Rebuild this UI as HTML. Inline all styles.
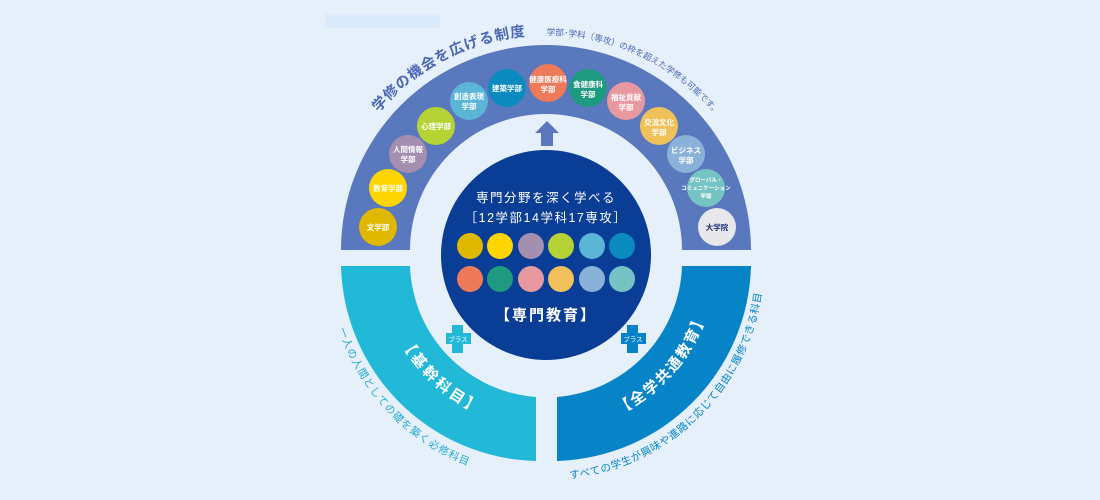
<!DOCTYPE html>
<html><head><meta charset="utf-8"><style>
html,body{margin:0;padding:0;background:#e6f0fa;}
svg{display:block}
text{font-family:"Liberation Sans","Noto Sans CJK JP",sans-serif;}
</style></head><body>
<svg width="1100" height="500" viewBox="0 0 1100 500" xmlns="http://www.w3.org/2000/svg">
<rect width="1100" height="500" fill="#e6f0fa"/>
<rect x="325" y="14" width="115" height="14" fill="#dcebfb"/>
<defs>
<path id="ttl" d="M326,255 A220,220 0 0 1 766,255"/>
<path id="bl" d="M328,262 A218,218 0 0 0 546,480"/>
<path id="br" d="M546,480 A218,218 0 0 0 764,262"/>
<path id="il" d="M380,262 A166,166 0 0 0 546,428"/>
<path id="ir" d="M546,431 A169,169 0 0 0 715,262"/>
</defs>
<path d="M341,250 A205,205 0 0 1 751,250 L682,250 A136,136 0 0 0 410,250 Z" fill="#5a78bd"/>
<path d="M341,266 L410,266 A136,136 0 0 0 536,397 L536,461 A200,200 0 0 1 341,266 Z" fill="#22b8d8"/>
<path d="M751,266 L682,266 A136,136 0 0 1 557,397 L557,461 A200,200 0 0 0 751,266 Z" fill="#0784c8"/>
<path d="M541,146 L541,133 L535,133 L547,121 L559,133 L553,133 L553,146 Z" fill="#5a78bd"/>
<circle cx="546" cy="255" r="105" fill="#0a3d96"/>
<text x="546" y="202" fill="#fff" font-size="12.5" text-anchor="middle" letter-spacing="1.5">専門分野を深く学べる</text>
<text x="546" y="222" fill="#fff" font-size="12.5" text-anchor="middle" letter-spacing="1.5">［12学部14学科17専攻］</text>
<text x="546" y="320" fill="#fff" font-size="15" font-weight="bold" text-anchor="middle" letter-spacing="2">【専門教育】</text>
<g>
<circle cx="470" cy="246" r="13" fill="#e0b800"/><circle cx="500" cy="246" r="13" fill="#ffd500"/><circle cx="531" cy="246" r="13" fill="#a48fb0"/><circle cx="561" cy="246" r="13" fill="#b5d334"/><circle cx="592" cy="246" r="13" fill="#5bb5d6"/><circle cx="622" cy="246" r="13" fill="#0a8bc0"/>
<circle cx="470" cy="279" r="13" fill="#ee7a5a"/><circle cx="500" cy="279" r="13" fill="#1e9a80"/><circle cx="531" cy="279" r="13" fill="#e8999f"/><circle cx="561" cy="279" r="13" fill="#f0c05a"/><circle cx="592" cy="279" r="13" fill="#8ab2d8"/><circle cx="622" cy="279" r="13" fill="#76c3c3"/>
</g>
<g font-size="7.5" font-weight="bold" fill="#fff" text-anchor="middle">
<circle cx="378" cy="227" r="19" fill="#e0b800"/><text x="378" y="230">文学部</text>
<circle cx="388" cy="188" r="19" fill="#ffd500"/><text x="388" y="191">教育学部</text>
<circle cx="408" cy="154" r="19" fill="#a48fb0"/><text x="408" y="152">人間情報</text><text x="408" y="162">学部</text>
<circle cx="436" cy="126" r="19" fill="#b5d334"/><text x="436" y="129">心理学部</text>
<circle cx="469" cy="101" r="19" fill="#5bb5d6"/><text x="469" y="99">創造表現</text><text x="469" y="109">学部</text>
<circle cx="507" cy="88" r="19" fill="#0a8bc0"/><text x="507" y="91">建築学部</text>
<circle cx="548" cy="83" r="19" fill="#ee7a5a"/><text x="548" y="82">健康医療科</text><text x="548" y="92">学部</text>
<circle cx="588" cy="88" r="19" fill="#1e9a80"/><text x="588" y="87">食健康科</text><text x="588" y="97">学部</text>
<circle cx="626" cy="101" r="19" fill="#e8999f"/><text x="626" y="100">福祉貢献</text><text x="626" y="110">学部</text>
<circle cx="659" cy="126" r="19" fill="#f0c05a"/><text x="659" y="125">交流文化</text><text x="659" y="135">学部</text>
<circle cx="686" cy="154" r="19" fill="#8ab2d8"/><text x="686" y="153">ビジネス</text><text x="686" y="163">学部</text>
<circle cx="706" cy="188" r="19" fill="#76c3c3"/><text x="706" y="182" font-size="5.5">グローバル・</text><text x="706" y="190" font-size="5.5">コミュニケーション</text><text x="706" y="198" font-size="5.5">学部</text>
<circle cx="717" cy="227" r="19" fill="#e8e8ea"/><text x="717" y="230" fill="#1a2f70">大学院</text>
</g>
<g fill="#22b8d8"><rect x="452" y="325" width="11" height="28"/><rect x="446" y="333" width="25" height="11"/></g>
<text x="458" y="341.5" font-size="6.5" fill="#fff" text-anchor="middle">プラス</text>
<g fill="#0784c8"><rect x="627" y="325" width="11" height="28"/><rect x="621" y="333" width="25" height="11"/></g>
<text x="633" y="341.5" font-size="6.5" fill="#fff" text-anchor="middle">プラス</text>
<text font-size="14.5" fill="#4a68b2" font-weight="bold" letter-spacing="1"><textPath href="#ttl" startOffset="155">学修の機会を広げる制度</textPath></text>
<text font-size="8.6" fill="#4a68b2"><textPath href="#ttl" startOffset="346">学部･学科（専攻）の枠を超えた学修も可能です。</textPath></text>
<text font-size="10.5" fill="#22aad0" letter-spacing="1"><textPath href="#bl" startOffset="68">一人の人間としての礎を築く必修科目</textPath></text>
<text font-size="10.5" fill="#0784c8" letter-spacing="0.6"><textPath href="#br" startOffset="24">すべての学生が興味や進路に応じて自由に履修できる科目</textPath></text>
<text font-size="15" fill="#fff" font-weight="bold" letter-spacing="3"><textPath href="#il" startOffset="84">【基幹科目】</textPath></text>
<text font-size="15" fill="#fff" font-weight="bold" letter-spacing="2"><textPath href="#ir" startOffset="76">【全学共通教育】</textPath></text>
</svg>
</body></html>
